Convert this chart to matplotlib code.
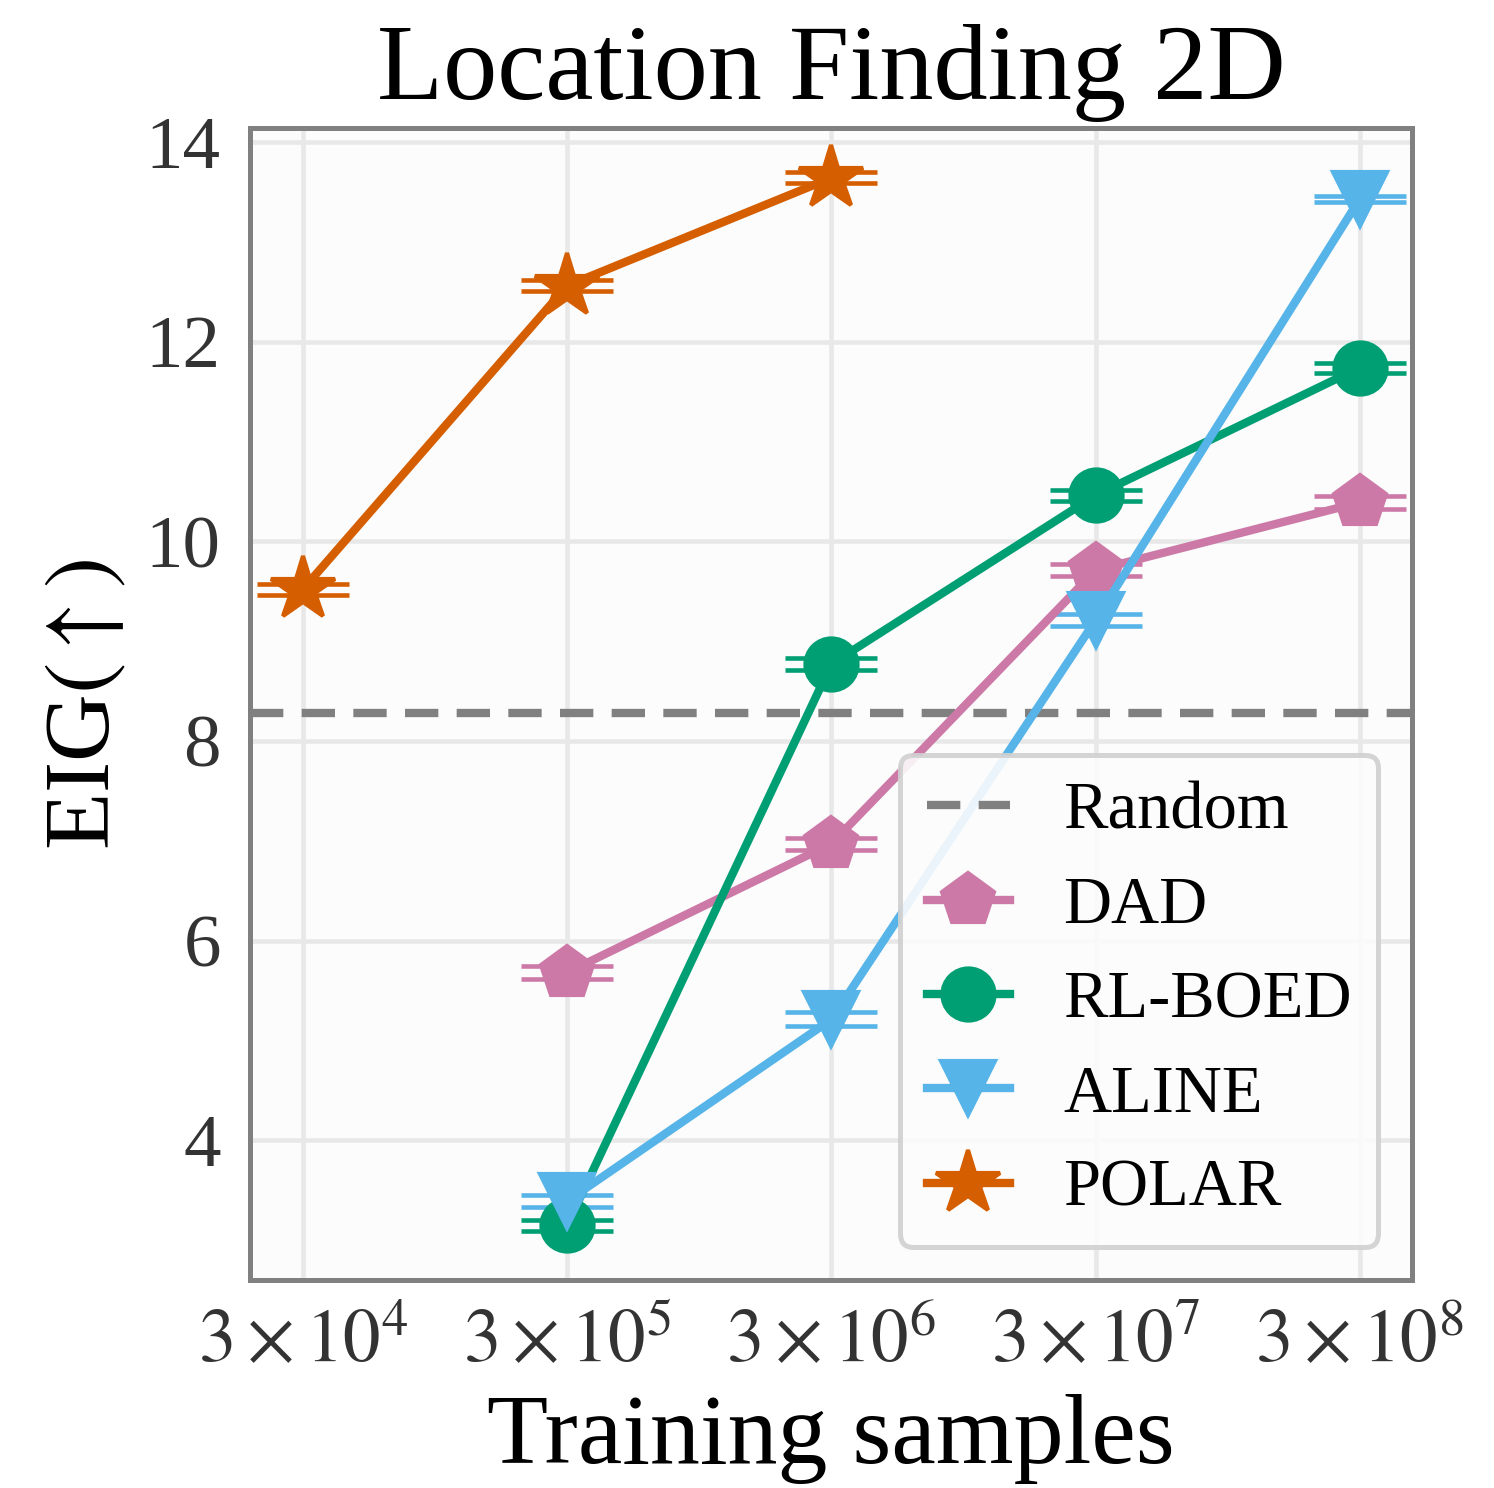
import numpy as np
import matplotlib.pyplot as plt

plt.rcParams['font.family'] = ['Liberation Serif', 'DejaVu Serif']
plt.rcParams['mathtext.fontset'] = 'stix'

# Data (EIG vs number of training samples)
samples = [3e4, 3e5, 3e6, 3e7, 3e8]
random_eig = 8.28

dad_x = [3e5, 3e6, 3e7, 3e8]
dad_y = [5.68, 6.97, 9.71, 10.39]
dad_err = [0.07, 0.06, 0.06, 0.065]

rlboed_x = [3e5, 3e6, 3e7, 3e8]
rlboed_y = [3.15, 8.77, 10.46, 11.74]
rlboed_err = [0.055, 0.06, 0.055, 0.05]

aline_x = [3e5, 3e6, 3e7, 3e8]
aline_y = [3.39, 5.21, 9.21, 13.43]
aline_err = [0.06, 0.07, 0.06, 0.03]

polar_x = [3e4, 3e5, 3e6]
polar_y = [9.52, 12.56, 13.64]
polar_err = [0.055, 0.055, 0.055]

tick_labels = [r'$3\times10^{4}$', r'$3\times10^{5}$', r'$3\times10^{6}$',
               r'$3\times10^{7}$', r'$3\times10^{8}$']

fig = plt.figure(figsize=(4.98, 4.96), dpi=300)
ax = fig.add_axes([0.1673, 0.1398, 0.7777, 0.7742])
ax.set_facecolor('#fcfcfc')

rand_line = ax.axhline(random_eig, color='#808080', linestyle='--', lw=2,
                       dashes=(4, 2.2), label='Random', zorder=2)

series = [
    ('DAD', dad_x, dad_y, dad_err, '#CC79A7', 'p', 13),
    ('RL-BOED', rlboed_x, rlboed_y, rlboed_err, '#009E73', 'o', 12.5),
    ('ALINE', aline_x, aline_y, aline_err, '#56B4E9', 'v', 13),
    ('POLAR', polar_x, polar_y, polar_err, '#D55E00', '*', 16),
]
handles = [rand_line]
for name, x, y, err, c, m, ms in series:
    eb = ax.errorbar(x, y, yerr=err, color=c, marker=m, markersize=ms, lw=2,
                     capsize=11, capthick=1.1, elinewidth=1.1, label=name,
                     zorder=3)
    handles.append(eb[0])

ax.set_xscale('log')
ax.set_xlim(1.89e4, 4.72e8)
ax.set_ylim(2.6, 14.14)
ax.set_xticks(samples)
ax.set_xticklabels(tick_labels)
ax.xaxis.set_minor_locator(plt.NullLocator())
ax.set_yticks([4, 6, 8, 10, 12, 14])
ax.tick_params(axis='both', labelsize=18, length=0, pad=7, colors='#333333')
ax.grid(True, color='#e8e8e8', lw=1.1)
ax.set_axisbelow(True)
for s in ax.spines.values():
    s.set_color('#808080')
    s.set_linewidth(1.2)

ax.set_xlabel('Training samples', fontsize=24, labelpad=4)
ax.set_ylabel(r'EIG$(\uparrow)$', fontsize=22.5, labelpad=4)
ax.set_title('Location Finding 2D', fontsize=26, pad=7)

leg = ax.legend(handles=handles, labels=['Random', 'DAD', 'RL-BOED', 'ALINE', 'POLAR'],
                loc='lower right', fontsize=16, frameon=True, fancybox=True,
                borderpad=0.4, labelspacing=0.5, handlelength=1.25,
                handletextpad=0.8)
leg.get_frame().set_edgecolor('#d0d0d0')
leg.get_frame().set_linewidth(1.2)
leg.get_frame().set_facecolor('#fcfcfc')
leg.get_frame().set_alpha(0.9)

fig.savefig('out.png', dpi=300)
